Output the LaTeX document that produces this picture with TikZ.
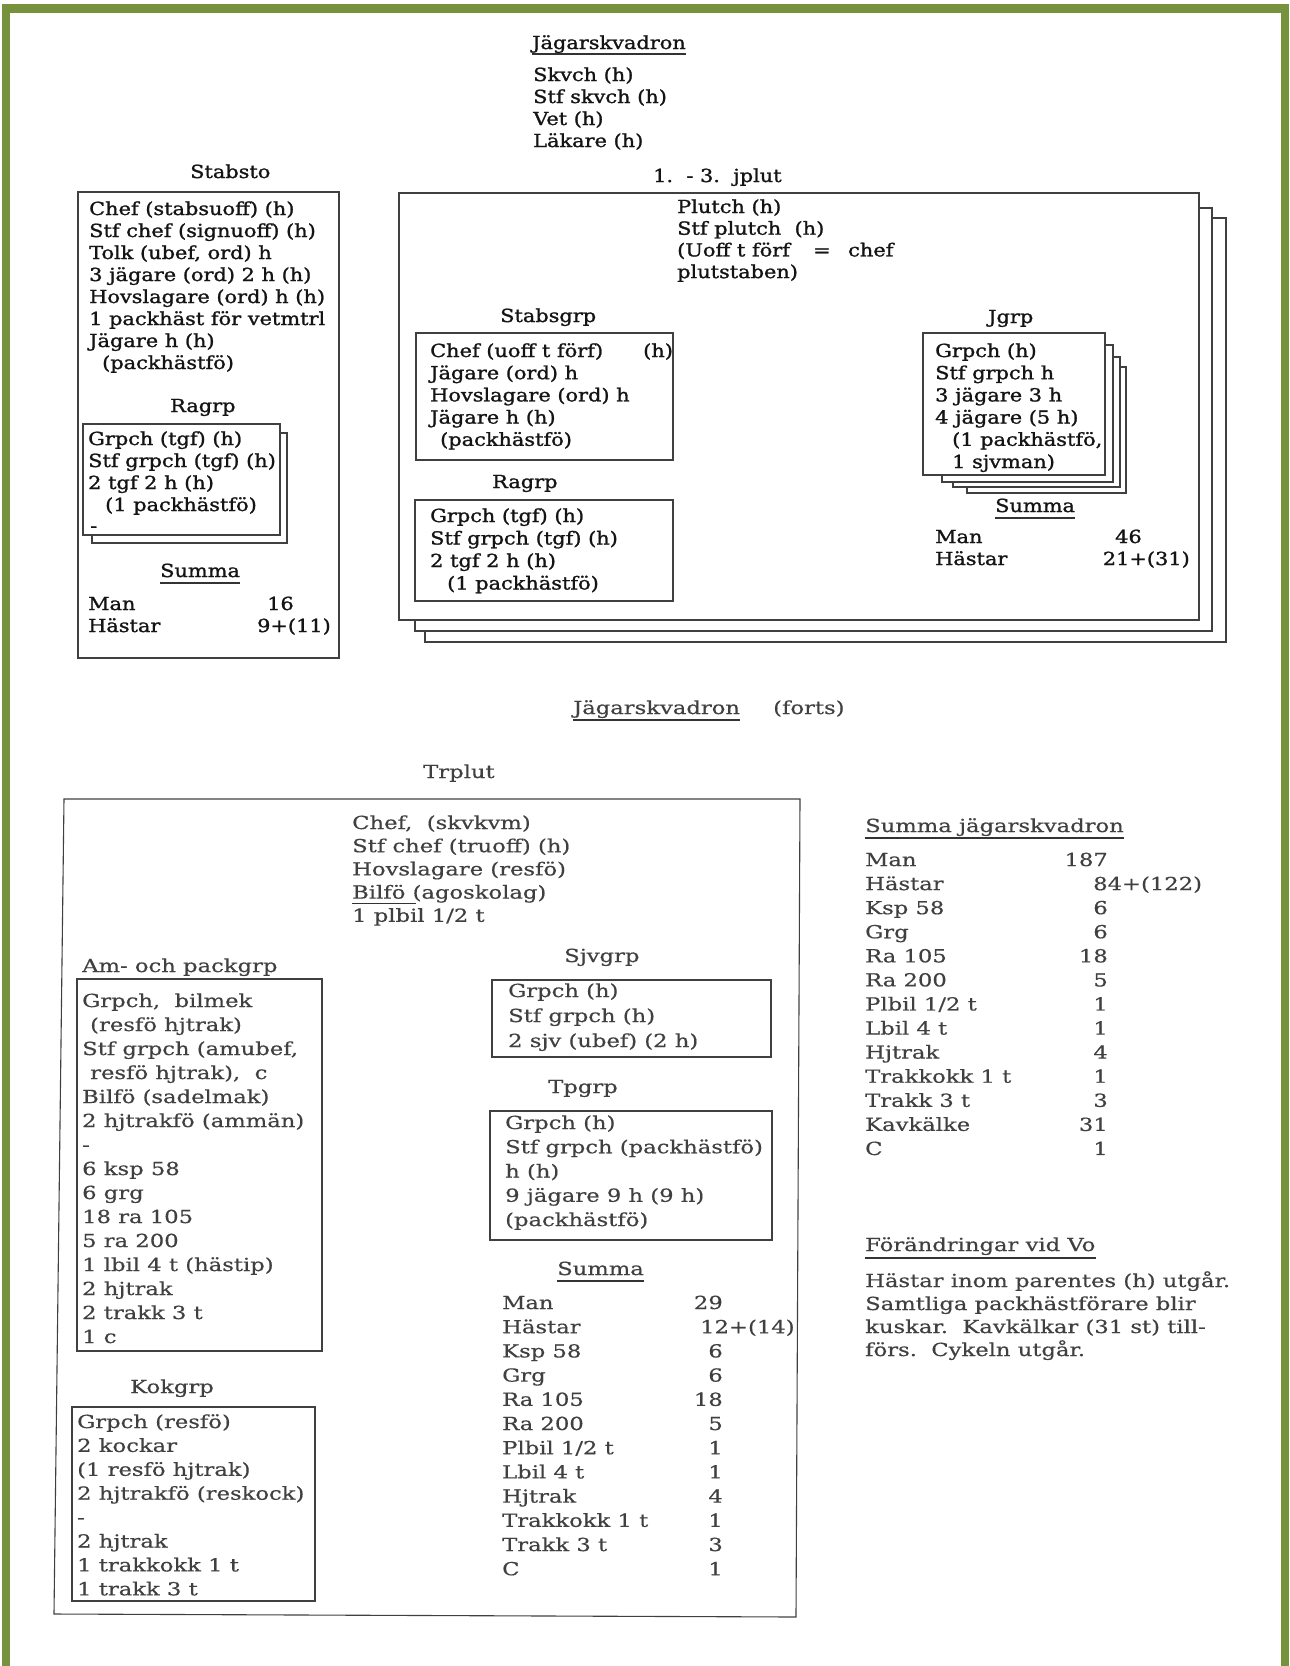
\documentclass[tikz,border=0pt]{standalone}
\usepackage{fontspec}
\newfontfamily\topfam{DejaVu Serif}[FakeStretch=1.16,FakeBold=1.3]
\newfontfamily\lowfam{DejaVu Serif}[FakeStretch=1.26,FakeBold=0.5]
\newcommand\topfont{\topfam\fontsize{18}{22}\selectfont}
\newcommand\lowfont{\lowfam\fontsize{18}{22}\selectfont}
\definecolor{frameolive}{HTML}{76923C}
\newcommand\txtblock[6]{%
  \foreach \txt [count=\idx] in {#6}{%
    \node[#2,anchor=base west] (#1\idx) at (#3,{#4+(\idx-1)*#5}) {\txt};}}
\tikzset{
  tt/.style={font=\topfont, text=black!92, inner sep=0pt},
  lt/.style={font=\lowfont, text=black!75, inner sep=0pt},
  frame/.style={draw=black!75, line width=1.1pt},
  card/.style={frame, fill=white},
  uline/.style={draw=black!80, line width=1.1pt},
}
\begin{document}
\begin{tikzpicture}[x=1pt,y=-1pt]
\useasboundingbox (0,0) rectangle (1290,1666);
% green frame
\fill[frameolive] (2,4) rectangle (1289,13);
\fill[frameolive] (2,4) rectangle (10,1666);
\fill[frameolive] (1281,4) rectangle (1289,1666);

% ---------- top title ----------
\node[tt,anchor=base west] (title) at (532,49) {Jägarskvadron};
\draw[uline] ([yshift=-5pt]title.base west) -- ([yshift=-5pt]title.base east);
\txtblock{sk}{tt}{533}{81}{22}{{Skvch (h)},{Stf skvch (h)},{Vet (h)},{Läkare (h)}}

% ---------- Stabsto ----------
\node[tt,anchor=base west] (stabsto) at (190,178) {Stabsto};
\draw[card] (78,192) rectangle (339,658);
\txtblock{st}{tt}{89}{215}{22}{{Chef (stabsuoff) (h)},{Stf chef (signuoff) (h)},{Tolk (ubef, ord) h},{3 jägare (ord) 2 h (h)},{Hovslagare (ord) h (h)},{1 packhäst för vetmtrl},{Jägare h (h)},{\hspace*{13pt}(packhästfö)}}
\node[tt,anchor=base west] (ragrpA) at (170,412) {Ragrp};
\draw[card] (92,433) rectangle (287,543);
\draw[card] (83,424) rectangle (280,535);
\txtblock{rga}{tt}{88}{445}{22}{{Grpch (tgf) (h)},{Stf grpch (tgf) (h)},{2 tgf 2 h (h)},{\hspace*{17pt}(1 packhästfö)}}
\node[tt,anchor=base west] (rgadash) at (90,532) {-};
\node[tt,anchor=base west] (sumA) at (160,577) {Summa};
\draw[uline] ([yshift=-6pt]sumA.base west) -- ([yshift=-6pt]sumA.base east);
\node[tt,anchor=base west] (manA) at (88,610) {Man};
\node[tt,anchor=base west] (manAv) at (267,610) {16};
\node[tt,anchor=base west] (hastA) at (88,632) {Hästar};
\node[tt,anchor=base east] (hastAv) at (331,632) {9+(11)};

% ---------- 1.-3. jplut ----------
\node[tt,anchor=base west] (jplut) at (653,182) {1.\ \ -\ 3.\ \ jplut};
\draw[card] (425,218) rectangle (1226,642);
\draw[card] (415,208) rectangle (1212,631);
\draw[card] (399,193) rectangle (1199,620);
\txtblock{pl}{tt}{677}{213}{21.7}{{Plutch (h)},{Stf plutch\ \ (h)},{(Uoff t förf},{plutstaben)}}
\node[tt,anchor=base west] (pleq) at (813,256.4) {=};
\node[tt,anchor=base west] (plchef) at (848,256.4) {chef};

\node[tt,anchor=base west] (stabsgrp) at (500,322) {Stabsgrp};
\draw[card] (416,333) rectangle (673,460);
\txtblock{sg}{tt}{430}{357}{22.2}{{Chef (uoff t förf)},{Jägare (ord) h},{Hovslagare (ord) h},{Jägare h (h)},{\hspace*{10pt}(packhästfö)}}
\node[tt,anchor=base west] (sgh) at (643,357) {(h)};

\node[tt,anchor=base west] (ragrpB) at (492,488) {Ragrp};
\draw[card] (415,500) rectangle (673,601);
\txtblock{rgb}{tt}{430}{522}{22.5}{{Grpch (tgf) (h)},{Stf grpch (tgf) (h)},{2 tgf 2 h (h)},{\hspace*{17pt}(1 packhästfö)}}

\node[tt,anchor=base west] (jgrp) at (988,323) {Jgrp};
\draw[card] (967,367) rectangle (1126,493);
\draw[card] (953,357) rectangle (1120,487);
\draw[card] (942,345) rectangle (1113,482);
\draw[card] (923,333) rectangle (1105,475);
\txtblock{jg}{tt}{935}{357}{22.2}{{Grpch (h)},{Stf grpch h},{3 jägare 3 h},{4 jägare (5 h)},{\hspace*{17pt}(1 packhästfö,},{\hspace*{17pt}1 sjvman)}}
\node[tt,anchor=base west] (sumB) at (995,512) {Summa};
\draw[uline] ([yshift=-6pt]sumB.base west) -- ([yshift=-6pt]sumB.base east);
\node[tt,anchor=base west] (manB) at (935,543) {Man};
\node[tt,anchor=base west] (manBv) at (1115,543) {46};
\node[tt,anchor=base west] (hastB) at (935,565) {Hästar};
\node[tt,anchor=base east] (hastBv) at (1190,565) {21+(31)};

% ---------- forts ----------
\node[lt,anchor=base west] (forts) at (573,714) {Jägarskvadron};
\draw[uline] ([yshift=-6pt]forts.base west) -- ([yshift=-6pt]forts.base east);
\node[lt,anchor=base west] (fortsb) at (773,714) {(forts)};

% ---------- Trplut ----------
\node[lt,anchor=base west] (trplut) at (423,778) {Trplut};
\draw[frame] (64,799) -- (800,799) -- (796,1617) -- (54,1614) -- cycle;
\txtblock{tr}{lt}{352}{829}{23.2}{{Chef,\ \ (skvkvm)},{Stf chef (truoff) (h)},{Hovslagare (resfö)},{Bilfö (agoskolag)},{1 plbil 1/2 t}}
\draw[uline,line width=0.9pt] ([yshift=-5pt]tr4.base west) -- ++(64,0);

\node[lt,anchor=base west] (amlab) at (82,972) {Am- och packgrp};
\draw[frame] (77,979) rectangle (322,1351);
\txtblock{am}{lt}{82}{1007}{24}{{Grpch,\ \ bilmek},{\hspace*{8pt}(resfö hjtrak)},{Stf grpch (amubef,},{\hspace*{8pt}resfö hjtrak),\ \ c},{Bilfö (sadelmak)},{2 hjtrakfö (ammän)},{-},{6 ksp 58},{6 grg},{18 ra 105},{5 ra 200},{1 lbil 4 t (hästip)},{2 hjtrak},{2 trakk 3 t},{1 c}}

\node[lt,anchor=base west] (koklab) at (130,1393) {Kokgrp};
\draw[frame] (72,1407) rectangle (315,1601);
\txtblock{kk}{lt}{77}{1428}{23.9}{{Grpch (resfö)},{2 kockar},{(1 resfö hjtrak)},{2 hjtrakfö (reskock)},{-},{2 hjtrak},{1 trakkokk 1 t},{1 trakk 3 t}}

\node[lt,anchor=base west] (sjvlab) at (564,962) {Sjvgrp};
\draw[frame] (492,980) rectangle (771,1057);
\txtblock{sj}{lt}{508}{997}{25}{{Grpch (h)},{Stf grpch (h)},{2 sjv (ubef) (2 h)}}

\node[lt,anchor=base west] (tplab) at (548,1093) {Tpgrp};
\draw[frame] (490,1111) rectangle (772,1240);
\txtblock{tp}{lt}{505}{1129}{24.25}{{Grpch (h)},{Stf grpch (packhästfö)},{h (h)},{9 jägare 9 h (9 h)},{(packhästfö)}}

\node[lt,anchor=base west] (sumC) at (557,1275) {Summa};
\draw[uline] ([yshift=-6pt]sumC.base west) -- ([yshift=-6pt]sumC.base east);
\txtblock{sm}{lt}{502}{1309}{24.2}{{Man},{Hästar},{Ksp 58},{Grg},{Ra 105},{Ra 200},{Plbil 1/2 t},{Lbil 4 t},{Hjtrak},{Trakkokk 1 t},{Trakk 3 t},{C}}
\foreach \idx/\val in {1/29,3/6,4/6,5/18,6/5,7/1,8/1,9/4,10/1,11/3,12/1}{
  \node[lt,anchor=base east] (smv\idx) at (723,{1309+(\idx-1)*24.2}) {\val};}
\node[lt,anchor=base west] (smv2) at (700,1333.2) {12+(14)};

% ---------- Summa jägarskvadron ----------
\node[lt,anchor=base west] (sumJ) at (865,832) {Summa jägarskvadron};
\draw[uline] ([yshift=-6pt]sumJ.base west) -- ([yshift=-6pt]sumJ.base east);
\txtblock{sq}{lt}{865}{866}{24.08}{{Man},{Hästar},{Ksp 58},{Grg},{Ra 105},{Ra 200},{Plbil 1/2 t},{Lbil 4 t},{Hjtrak},{Trakkokk 1 t},{Trakk 3 t},{Kavkälke},{C}}
\foreach \idx/\val in {1/187,3/6,4/6,5/18,6/5,7/1,8/1,9/4,10/1,11/3,12/31,13/1}{
  \node[lt,anchor=base east] (sqv\idx) at (1108,{866+(\idx-1)*24.08}) {\val};}
\node[lt,anchor=base west] (sqv2) at (1093,890.1) {84+(122)};

% ---------- Förändringar ----------
\node[lt,anchor=base west] (forv) at (865,1251) {Förändringar vid Vo};
\draw[uline] ([yshift=-7pt]forv.base west) -- ([yshift=-7pt]forv.base east);
\txtblock{fv}{lt}{865}{1287}{23}{{Hästar inom parentes (h) utgår.},{Samtliga packhästförare blir},{kuskar.\ \ Kavkälkar (31 st) till-},{förs.\ \ Cykeln utgår.}}
\end{tikzpicture}
\end{document}
